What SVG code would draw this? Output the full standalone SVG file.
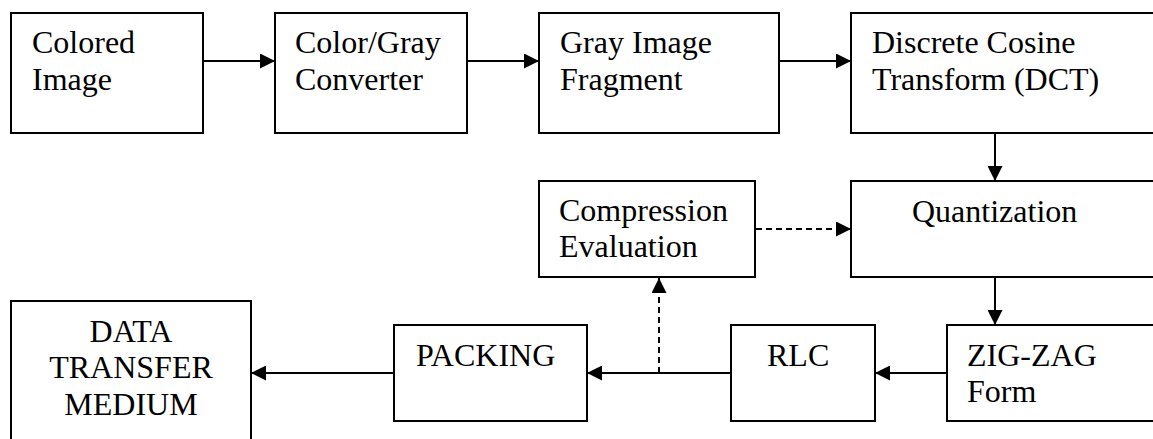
<svg xmlns="http://www.w3.org/2000/svg" width="1153" height="439" viewBox="0 0 1153 439">
<style>
.box{fill:#fff;stroke:#000;stroke-width:2}
.t{font-family:"Liberation Serif","Times New Roman",serif;font-size:32px;fill:#000}
.c{text-anchor:middle}
.ln{stroke:#000;stroke-width:2;fill:none}
.d{stroke-dasharray:6,4}
</style>
<defs>
<marker id="ah" markerWidth="15" markerHeight="15" viewBox="0 0 15 15" refX="15" refY="7.5" orient="auto" markerUnits="userSpaceOnUse">
<path d="M0,0 L15,7.5 L0,15 Z" fill="#000"/>
</marker>
</defs>
<rect width="1153" height="439" fill="#fff"/>
<g id="connectors">
<line class="ln" x1="203" y1="61" x2="275" y2="61" marker-end="url(#ah)"/>
<line class="ln" x1="467" y1="61" x2="539" y2="61" marker-end="url(#ah)"/>
<line class="ln" x1="779" y1="61" x2="851" y2="61" marker-end="url(#ah)"/>
<line class="ln" x1="995" y1="133" x2="995" y2="181" marker-end="url(#ah)"/>
<line class="ln d" x1="756" y1="229" x2="851" y2="229" marker-end="url(#ah)"/>
<line class="ln" x1="995" y1="277" x2="995" y2="325" marker-end="url(#ah)"/>
<line class="ln" x1="947" y1="373" x2="875" y2="373" marker-end="url(#ah)"/>
<line class="ln" x1="731" y1="373" x2="587" y2="373" marker-end="url(#ah)"/>
<line class="ln d" x1="659" y1="373" x2="659" y2="278" marker-end="url(#ah)"/>
<line class="ln" x1="394" y1="373" x2="251" y2="373" marker-end="url(#ah)"/>
</g>
<g id="colored-image">
<rect class="box" x="11" y="13" width="192" height="120"/>
<text class="t" x="32" y="53">Colored</text>
<text class="t" x="32" y="90">Image</text>
</g>
<g id="color-gray-converter">
<rect class="box" x="275" y="13" width="192" height="120"/>
<text class="t" x="295" y="53">Color/Gray</text>
<text class="t" x="295" y="90">Converter</text>
</g>
<g id="gray-image-fragment">
<rect class="box" x="539" y="13" width="240" height="120"/>
<text class="t" x="560" y="53">Gray Image</text>
<text class="t" x="560" y="90">Fragment</text>
</g>
<g id="dct">
<rect class="box" x="851" y="13" width="320" height="120"/>
<text class="t" x="872" y="53">Discrete Cosine</text>
<text class="t" x="872" y="90">Transform (DCT)</text>
</g>
<g id="compression-evaluation">
<rect class="box" x="539" y="181" width="216" height="96"/>
<text class="t" x="559" y="221">Compression</text>
<text class="t" x="559" y="257">Evaluation</text>
</g>
<g id="quantization">
<rect class="box" x="851" y="181" width="320" height="96"/>
<text class="t" x="912" y="222">Quantization</text>
</g>
<g id="zigzag">
<rect class="box" x="947" y="325" width="224" height="96"/>
<text class="t" x="967" y="366">ZIG-ZAG</text>
<text class="t" x="967" y="402">Form</text>
</g>
<g id="rlc">
<rect class="box" x="731" y="325" width="144" height="96"/>
<text class="t" x="767" y="366">RLC</text>
</g>
<g id="packing">
<rect class="box" x="394" y="325" width="193" height="96"/>
<text class="t" x="416" y="366">PACKING</text>
</g>
<g id="data-transfer-medium">
<rect class="box" x="11" y="301" width="240" height="160"/>
<text class="t c" x="131" y="342">DATA</text>
<text class="t c" x="131" y="378">TRANSFER</text>
<text class="t c" x="131" y="415">MEDIUM</text>
</g>
</svg>
